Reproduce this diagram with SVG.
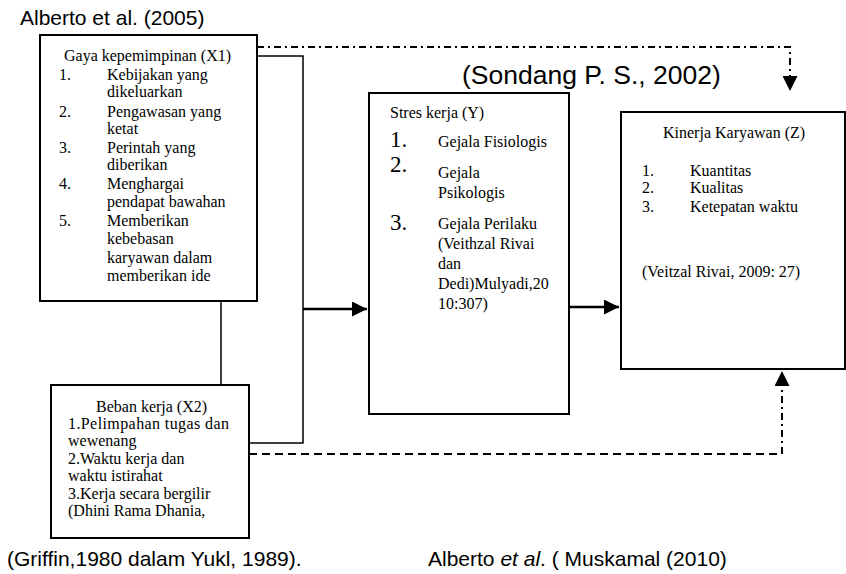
<svg xmlns="http://www.w3.org/2000/svg" width="846" height="574" viewBox="0 0 846 574">
<style>
.box{fill:#fff;stroke:#000;stroke-width:2}
.t{font-family:"Liberation Serif","Times New Roman",serif;font-size:16px;fill:#000}
.big{font-family:"Liberation Serif","Times New Roman",serif;font-size:23px;fill:#000}
.a{font-family:"Liberation Sans",Arial,sans-serif;fill:#000}
.ln{fill:none;stroke:#000;stroke-width:1.5}
.thick{fill:none;stroke:#000;stroke-width:2.5}
.dd{fill:none;stroke:#000;stroke-width:2;stroke-dasharray:7 4 2 4}
.ds{fill:none;stroke:#000;stroke-width:2;stroke-dasharray:8 5}
</style>
<defs>
<marker id="ah" viewBox="0 0 10 10" refX="10" refY="5" markerWidth="6" markerHeight="6" markerUnits="strokeWidth" orient="auto">
<path d="M0,0 L10,5 L0,10 z" fill="#000"/>
</marker>
<marker id="ah2" viewBox="0 0 10 10" refX="10" refY="5" markerWidth="7.5" markerHeight="7.5" markerUnits="strokeWidth" orient="auto">
<path d="M0,0 L10,5 L0,10 z" fill="#000"/>
</marker>
</defs>

<text class="a" x="20" y="25" font-size="21">Alberto et al. (2005)</text>
<text class="a" x="462" y="84" font-size="26.5">(Sondang P. S., 2002)</text>
<text class="a" x="7" y="566" font-size="21">(Griffin,1980 dalam Yukl, 1989).</text>
<text class="a" x="428" y="566" font-size="21">Alberto <tspan font-style="italic">et al</tspan>. ( Muskamal (2010)</text>

<g id="connectors">
<path class="ln" d="M257,56 H303 V443 H248"/>
<path class="ln" d="M221,301 V385"/>
<path class="thick" d="M303,309 H367" marker-end="url(#ah)"/>
<path class="thick" d="M569,307 H619" marker-end="url(#ah)"/>
<path class="dd" d="M257,47 H790 V91" marker-end="url(#ah2)"/>
<path class="ds" d="M249,454 H782"/>
<path class="dd" d="M782,454 V371" marker-end="url(#ah2)"/>
</g>

<g id="x1">
<rect class="box" x="40" y="35" width="217" height="266"/>
<text class="t" x="64" y="61">Gaya kepemimpinan (X1)</text>
<text class="t" x="59" y="80">1.</text><text class="t" x="107" y="80">Kebijakan yang</text>
<text class="t" x="107" y="97">dikeluarkan</text>
<text class="t" x="59" y="117">2.</text><text class="t" x="107" y="117">Pengawasan yang</text>
<text class="t" x="107" y="134">ketat</text>
<text class="t" x="59" y="153">3.</text><text class="t" x="107" y="153">Perintah yang</text>
<text class="t" x="107" y="170">diberikan</text>
<text class="t" x="59" y="189">4.</text><text class="t" x="107" y="189">Menghargai</text>
<text class="t" x="107" y="207">pendapat bawahan</text>
<text class="t" x="59" y="226">5.</text><text class="t" x="107" y="226">Memberikan</text>
<text class="t" x="107" y="244">kebebasan</text>
<text class="t" x="107" y="263">karyawan dalam</text>
<text class="t" x="107" y="281">memberikan ide</text>
</g>

<g id="x2">
<rect class="box" x="51" y="385" width="198" height="153"/>
<text class="t" x="96" y="412">Beban kerja (X2)</text>
<text class="t" x="68" y="429" textLength="161" lengthAdjust="spacing">1.Pelimpahan tugas dan</text>
<text class="t" x="68" y="446">wewenang</text>
<text class="t" x="68" y="464">2.Waktu kerja dan</text>
<text class="t" x="68" y="481">waktu istirahat</text>
<text class="t" x="68" y="499">3.Kerja secara bergilir</text>
<text class="t" x="68" y="516">(Dhini Rama Dhania,</text>
</g>

<g id="y">
<rect class="box" x="369" y="93" width="200" height="321"/>
<text class="t" x="390" y="118">Stres kerja (Y)</text>
<text class="big" x="390" y="147">1.</text><text class="t" x="438" y="147">Gejala Fisiologis</text>
<text class="big" x="390" y="172">2.</text><text class="t" x="438" y="178">Gejala</text>
<text class="t" x="438" y="198">Psikologis</text>
<text class="big" x="390" y="230">3.</text><text class="t" x="438" y="229">Gejala Perilaku</text>
<text class="t" x="438" y="249">(Veithzal Rivai</text>
<text class="t" x="438" y="269">dan</text>
<text class="t" x="438" y="289">Dedi)Mulyadi,20</text>
<text class="t" x="438" y="309">10:307)</text>
</g>

<g id="z">
<rect class="box" x="621" y="112" width="224" height="257"/>
<text class="t" x="663" y="138">Kinerja Karyawan (Z)</text>
<text class="t" x="642" y="176">1.</text><text class="t" x="690" y="176">Kuantitas</text>
<text class="t" x="642" y="193">2.</text><text class="t" x="690" y="193">Kualitas</text>
<text class="t" x="642" y="212">3.</text><text class="t" x="690" y="212">Ketepatan waktu</text>
<text class="t" x="642" y="277">(Veitzal Rivai, 2009: 27)</text>
</g>
</svg>
